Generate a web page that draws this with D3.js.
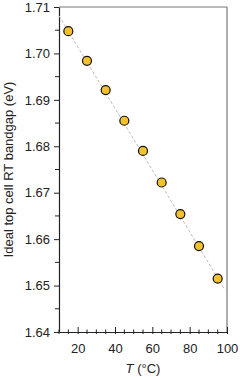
<!DOCTYPE html>
<html>
<head>
<meta charset="utf-8">
<script src="https://cdn.jsdelivr.net/npm/d3@7"></script>
<style>
  body { margin: 0; background: #fff; }
  text { font-family: "Liberation Sans", Arial, sans-serif; fill: #222; }
</style>
</head>
<body>
<script>
// Data
const temps = [15, 25, 35, 45, 55, 65, 75, 85, 95];
const bandgaps = [1.7048, 1.6984, 1.6921, 1.6855, 1.6790, 1.6722, 1.6654, 1.6585, 1.6515];
// dashed linear fit endpoints
const fitT = [10, 98.8];
const fitEg = [1.7081, 1.6491];
const xTicks = [20, 40, 60, 80, 100];
const yTicks = [1.64, 1.65, 1.66, 1.67, 1.68, 1.69, 1.70, 1.71];

const margin = {top: 7, right: 13, bottom: 45, left: 59},
    width = 240 - margin.left - margin.right,
    height = 377 - margin.top - margin.bottom;

const svg = d3.select("body").append("svg")
    .attr("width", 240)
    .attr("height", 377);

const g = svg.append("g")
    .attr("transform", `translate(${margin.left},${margin.top})`);

const x = d3.scaleLinear().domain([10, 100]).range([0, width]);
const y = d3.scaleLinear().domain([1.64, 1.71]).range([height, 0]);

// frame: top and right lighter
g.append("line").attr("x1", 0).attr("x2", width).attr("y1", 0).attr("y2", 0)
    .attr("stroke", "#777").attr("stroke-width", 1.2);
g.append("line").attr("x1", width).attr("x2", width).attr("y1", 0).attr("y2", height)
    .attr("stroke", "#777").attr("stroke-width", 1.2);

// minor ticks
const xMinor = d3.range(10, 100, 5).filter(v => v % 20 !== 0);
g.append("g").selectAll("line").data(xMinor).join("line")
    .attr("x1", d => x(d)).attr("x2", d => x(d))
    .attr("y1", height - 2.5).attr("y2", height + 2)
    .attr("stroke", "#222").attr("stroke-width", 1);
const yMinor = d3.range(1.645, 1.71, 0.01);
g.append("g").selectAll("line").data(yMinor).join("line")
    .attr("x1", -4).attr("x2", 0)
    .attr("y1", d => y(d)).attr("y2", d => y(d))
    .attr("stroke", "#222").attr("stroke-width", 1);

// axes
const xAxis = g.append("g")
    .attr("transform", `translate(0,${height})`)
    .call(d3.axisBottom(x).tickValues(xTicks).tickSizeInner(-5).tickSizeOuter(0).tickPadding(12));
xAxis.selectAll(".tick line").attr("y2", -5).attr("y1", 2);

const yAxis = g.append("g")
    .call(d3.axisLeft(y).tickValues(yTicks).tickFormat(d3.format(".2f")).tickSizeInner(5).tickSizeOuter(0).tickPadding(4));

[xAxis, yAxis].forEach(a => {
    a.select(".domain").attr("stroke", "#222").attr("stroke-width", 1.2);
    a.selectAll(".tick line").attr("stroke", "#222").attr("stroke-width", 1);
    a.selectAll("text").style("font-size", "13px").attr("fill", "#222")
        .style("font-family", "'Liberation Sans', Arial, sans-serif");
});

// dashed fit line
g.append("path")
    .datum(fitT.map((t, i) => [t, fitEg[i]]))
    .attr("fill", "none")
    .attr("stroke", "#bbb")
    .attr("stroke-width", 1)
    .attr("stroke-dasharray", "3,2")
    .attr("d", d3.line().x(d => x(d[0])).y(d => y(d[1])));

// points
g.append("g").selectAll("circle")
    .data(temps.map((t, i) => ({t: t, eg: bandgaps[i]})))
    .join("circle")
    .attr("cx", d => x(d.t))
    .attr("cy", d => y(d.eg))
    .attr("r", 4.5)
    .attr("fill", "#f2c12e")
    .attr("stroke", "#111")
    .attr("stroke-width", 1.2);

// axis labels
const xl = svg.append("text")
    .attr("x", margin.left + width / 2)
    .attr("y", 373)
    .attr("text-anchor", "middle")
    .style("font-size", "13px");
xl.append("tspan").style("font-style", "italic").text("T");
xl.append("tspan").text(" (°C)");

svg.append("text")
    .attr("transform", `translate(13,${margin.top + height / 2}) rotate(-90)`)
    .attr("text-anchor", "middle")
    .style("font-size", "13px")
    .text("Ideal top cell RT bandgap (eV)");
</script>
</body>
</html>
